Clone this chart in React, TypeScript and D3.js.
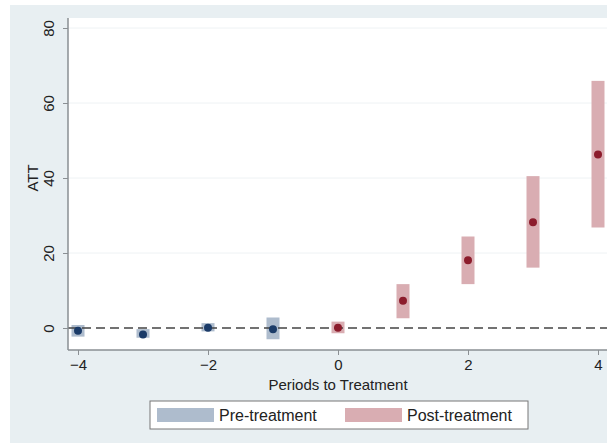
import React, { useEffect, useRef } from "react";
import * as d3 from "d3";

const periods = [-4, -3, -2, -1, 0, 1, 2, 3, 4];
const att = [-0.7, -1.7, 0.1, -0.3, 0.1, 7.3, 18.1, 28.2, 46.3];
const ciLow = [-2.3, -2.6, -0.9, -3.0, -1.4, 2.6, 11.7, 16.1, 26.8];
const ciHigh = [0.8, -0.3, 1.3, 2.8, 1.7, 11.7, 24.4, 40.5, 65.9];
const yTicks = [0, 20, 40, 60, 80];
const xTicks = [-4, -2, 0, 2, 4];
const legendLabels = ["Pre-treatment", "Post-treatment"];

const preFill = "#aebccd";
const postFill = "#d9adb2";
const preDot = "#1b3b68";
const postDot = "#8c1c2c";

function App() {
  const ref = useRef<SVGSVGElement>(null);

  useEffect(() => {
    const width = 607;
    const height = 443;
    const svg = d3.select(ref.current);
    svg.selectAll("*").remove();
    svg.attr("width", width).attr("height", height);

    const font = "'Liberation Sans', Arial, sans-serif";
    const fs = "15px";
    const ink = "#222";

    // outer background
    svg
      .append("rect")
      .attr("x", 10)
      .attr("y", 5)
      .attr("width", width - 10)
      .attr("height", height - 5)
      .attr("fill", "#e8eff2");

    const left = 68;
    const top = 18;
    const right = 608;
    const bottom = 350;

    const x = d3.scaleLinear().domain([-4, 4]).range([78, 598]);
    const y = d3.scaleLinear().domain([0, 80]).range([328, 28]);

    // plot area
    svg
      .append("rect")
      .attr("x", left)
      .attr("y", top)
      .attr("width", right - left)
      .attr("height", bottom - top)
      .attr("fill", "#ffffff");

    // grid
    svg
      .selectAll(".grid")
      .data(yTicks.filter((t) => t > 0))
      .enter()
      .append("line")
      .attr("class", "grid")
      .attr("x1", left)
      .attr("x2", right)
      .attr("y1", (d) => y(d))
      .attr("y2", (d) => y(d))
      .attr("stroke", "#eef2f4")
      .attr("stroke-width", 1);

    const data = periods.map((p, i) => ({
      p,
      v: att[i],
      lo: ciLow[i],
      hi: ciHigh[i],
    }));

    const barW = 13;

    // CI bars
    svg
      .selectAll(".ci")
      .data(data)
      .enter()
      .append("rect")
      .attr("class", "ci")
      .attr("x", (d) => x(d.p) - barW / 2)
      .attr("y", (d) => y(d.hi))
      .attr("width", barW)
      .attr("height", (d) => y(d.lo) - y(d.hi))
      .attr("fill", (d) => (d.p < 0 ? preFill : postFill));

    // dashed zero line
    svg
      .append("line")
      .attr("x1", left)
      .attr("x2", right)
      .attr("y1", y(0))
      .attr("y2", y(0))
      .attr("stroke", "#444444")
      .attr("stroke-width", 1.4)
      .attr("stroke-dasharray", "9,5");

    // points
    svg
      .selectAll(".pt")
      .data(data)
      .enter()
      .append("circle")
      .attr("class", "pt")
      .attr("cx", (d) => x(d.p))
      .attr("cy", (d) => y(d.v))
      .attr("r", 4)
      .attr("fill", (d) => (d.p < 0 ? preDot : postDot));

    // y axis
    const yAxis = svg
      .append("g")
      .attr("transform", `translate(${left},0)`)
      .call(d3.axisLeft(y).tickValues(yTicks).tickSize(5).tickPadding(6));
    yAxis.select(".domain").attr("d", `M0,${top}V${bottom}`).attr("stroke", "#8a8f93").attr("stroke-width", 1.5);
    yAxis.selectAll(".tick line").attr("stroke", "#8a8f93");
    yAxis
      .selectAll(".tick text")
      .attr("transform", "rotate(-90)")
      .attr("x", 0)
      .attr("y", -14.5)
      .attr("dy", 0)
      .attr("text-anchor", "middle")
      .style("font-family", font)
      .style("font-size", fs)
      .attr("fill", ink);

    // x axis
    const xAxis = svg
      .append("g")
      .attr("transform", `translate(0,${bottom})`)
      .call(d3.axisBottom(x).tickValues(xTicks).tickSize(5).tickPadding(4));
    xAxis.select(".domain").attr("d", `M${left},0H${right}`).attr("stroke", "#8a8f93").attr("stroke-width", 1.5);
    xAxis.selectAll(".tick line").attr("stroke", "#8a8f93");
    xAxis
      .selectAll(".tick text")
      .style("font-family", font)
      .style("font-size", fs)
      .attr("fill", ink);

    // axis titles
    svg
      .append("text")
      .attr("transform", `translate(33,${y(40)}) rotate(-90)`)
      .attr("text-anchor", "middle")
      .attr("dy", "0.35em")
      .style("font-family", font)
      .style("font-size", fs)
      .attr("fill", ink)
      .text("ATT");

    svg
      .append("text")
      .attr("x", x(0))
      .attr("y", 390)
      .attr("text-anchor", "middle")
      .style("font-family", font)
      .style("font-size", fs)
      .attr("fill", ink)
      .text("Periods to Treatment");

    // legend
    const lg = svg.append("g");
    lg.append("rect")
      .attr("x", 150)
      .attr("y", 401)
      .attr("width", 378)
      .attr("height", 28)
      .attr("fill", "#ffffff")
      .attr("stroke", "#777")
      .attr("stroke-width", 1);

    const swatchX = [157, 345];
    const fills = [preFill, postFill];
    legendLabels.forEach((lab, i) => {
      lg.append("rect")
        .attr("x", swatchX[i])
        .attr("y", 408)
        .attr("width", 57)
        .attr("height", 14)
        .attr("fill", fills[i]);
      lg.append("text")
        .attr("x", swatchX[i] + 62)
        .attr("y", 415)
        .attr("dy", "0.35em")
        .style("font-family", font)
        .style("font-size", "16px")
        .attr("fill", ink)
        .text(lab);
    });
  }, []);

  return (
    <svg ref={ref} style={{ position: "absolute", left: 0, top: 0, background: "#ffffff" }} />
  );
}

export default App;
